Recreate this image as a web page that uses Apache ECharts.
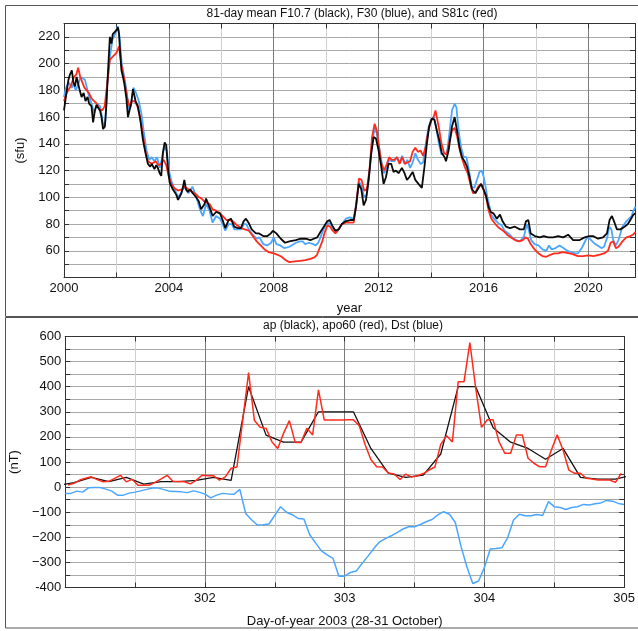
<!DOCTYPE html>
<html><head><meta charset="utf-8">
<script src="https://cdn.jsdelivr.net/npm/echarts@6/dist/echarts.min.js"></script>
<style>html,body{margin:0;padding:0;background:#fff}#chart{width:638px;height:631px}</style>
</head><body><div id="chart"></div>
<script>
// ---------- Top panel data: [year, sfu] ----------
const f107Black = [[2000.0,165],[2000.05,172],[2000.1,179],[2000.17,188],[2000.23,192],[2000.3,195],[2000.36,186],[2000.42,183],[2000.48,190],[2000.54,189],[2000.6,180],[2000.67,175],[2000.75,178],[2000.82,172],[2000.9,175],[2000.96,170],[2001.05,168],[2001.11,156],[2001.18,165],[2001.24,169],[2001.3,170],[2001.37,165],[2001.43,160],[2001.49,151],[2001.56,153],[2001.62,170],[2001.68,195],[2001.75,220],[2001.81,215],[2001.86,222],[2001.92,221],[2002.0,225],[2002.06,227],[2002.1,222],[2002.13,212],[2002.19,195],[2002.25,190],[2002.3,185],[2002.38,174],[2002.44,160],[2002.5,165],[2002.56,170],[2002.63,181],[2002.68,180],[2002.73,172],[2002.82,168],[2002.91,158],[2003.01,143],[2003.11,133],[2003.2,125],[2003.29,123],[2003.35,125],[2003.45,121],[2003.52,124],[2003.58,122],[2003.65,118],[2003.71,116],[2003.77,133],[2003.84,141],[2003.9,139],[2003.96,123],[2004.03,111],[2004.15,106],[2004.28,102],[2004.35,98],[2004.41,97],[2004.48,103],[2004.54,108],[2004.59,113],[2004.65,106],[2004.72,104],[2004.81,106],[2004.91,103],[2005.04,100],[2005.14,97],[2005.23,91],[2005.29,90],[2005.36,95],[2005.42,99],[2005.52,94],[2005.6,90],[2005.67,86],[2005.8,89],[2005.95,88],[2006.05,83],[2006.15,77],[2006.28,83],[2006.37,84],[2006.49,78],[2006.62,77],[2006.75,77],[2006.85,82],[2006.94,84],[2007.04,81],[2007.16,76],[2007.32,73],[2007.44,73],[2007.6,71],[2007.76,71],[2007.89,73],[2007.97,75],[2008.1,73],[2008.27,69],[2008.43,66],[2008.6,67],[2008.84,68],[2009.03,69],[2009.22,69],[2009.4,68],[2009.53,69],[2009.66,70],[2009.78,74],[2009.91,78],[2010.04,82],[2010.13,83],[2010.23,79],[2010.35,75],[2010.48,76],[2010.6,80],[2010.73,82],[2010.92,83],[2011.05,83],[2011.14,93],[2011.24,110],[2011.34,106],[2011.43,94],[2011.52,98],[2011.62,113],[2011.72,133],[2011.81,145],[2011.9,144],[2012.0,135],[2012.1,123],[2012.19,110],[2012.28,115],[2012.38,125],[2012.48,125],[2012.57,119],[2012.66,120],[2012.76,118],[2012.89,122],[2012.99,118],[2013.08,113],[2013.17,115],[2013.3,119],[2013.4,113],[2013.52,110],[2013.65,107],[2013.75,123],[2013.84,140],[2013.93,153],[2014.03,159],[2014.13,158],[2014.22,150],[2014.31,143],[2014.41,133],[2014.52,130],[2014.57,127],[2014.67,135],[2014.8,153],[2014.9,160],[2014.99,150],[2015.08,138],[2015.18,130],[2015.28,127],[2015.37,123],[2015.46,116],[2015.56,106],[2015.69,103],[2015.81,107],[2015.91,110],[2016.0,106],[2016.1,101],[2016.19,93],[2016.28,89],[2016.38,88],[2016.51,84],[2016.63,87],[2016.73,82],[2016.86,78],[2017.01,77],[2017.2,78],[2017.39,76],[2017.54,76],[2017.62,82],[2017.71,83],[2017.8,73],[2017.96,71],[2018.15,70],[2018.3,71],[2018.47,70],[2018.66,70],[2018.85,71],[2019.04,70],[2019.23,72],[2019.42,68],[2019.67,68],[2019.86,70],[2020.03,71],[2020.18,71],[2020.37,69],[2020.56,70],[2020.71,73],[2020.81,83],[2020.9,86],[2021.0,81],[2021.09,76],[2021.22,76],[2021.38,78],[2021.51,80],[2021.63,84],[2021.72,87],[2021.8,88]];

const f30Blue = [[2000.0,175],[2000.05,180],[2000.1,183],[2000.17,186],[2000.23,185],[2000.3,182],[2000.36,185],[2000.45,180],[2000.55,185],[2000.63,190],[2000.7,190],[2000.8,188],[2000.92,178],[2001.05,170],[2001.15,163],[2001.25,170],[2001.38,168],[2001.45,160],[2001.5,152],[2001.58,157],[2001.65,185],[2001.75,205],[2001.85,218],[2001.95,222],[2002.05,228],[2002.12,220],[2002.2,200],[2002.3,190],[2002.4,178],[2002.47,165],[2002.55,168],[2002.65,182],[2002.75,178],[2002.85,172],[2002.95,163],[2003.05,148],[2003.15,135],[2003.25,128],[2003.35,130],[2003.45,127],[2003.55,130],[2003.65,122],[2003.75,130],[2003.83,138],[2003.92,135],[2004.0,120],[2004.1,112],[2004.2,107],[2004.35,100],[2004.45,103],[2004.6,108],[2004.75,103],[2004.9,108],[2005.05,100],[2005.2,90],[2005.3,86],[2005.42,95],[2005.55,90],[2005.67,81],[2005.8,86],[2005.95,84],[2006.05,80],[2006.15,75],[2006.28,80],[2006.4,80],[2006.5,76],[2006.62,76],[2006.75,76],[2006.87,80],[2006.95,80],[2007.05,76],[2007.2,72],[2007.35,69],[2007.45,70],[2007.6,65],[2007.75,64],[2007.9,66],[2008.0,70],[2008.1,65],[2008.25,64],[2008.4,62],[2008.6,63],[2008.85,66],[2009.0,67],[2009.1,67],[2009.2,65],[2009.35,66],[2009.5,65],[2009.6,64],[2009.7,66],[2009.8,71],[2009.9,76],[2010.05,81],[2010.15,80],[2010.3,76],[2010.4,74],[2010.5,77],[2010.6,80],[2010.75,84],[2010.9,85],[2011.05,84],[2011.15,96],[2011.25,112],[2011.35,108],[2011.45,100],[2011.55,102],[2011.65,118],[2011.75,140],[2011.85,152],[2011.93,148],[2012.0,140],[2012.1,128],[2012.2,118],[2012.3,121],[2012.4,128],[2012.5,127],[2012.6,127],[2012.7,130],[2012.8,126],[2012.9,131],[2013.0,125],[2013.1,128],[2013.2,122],[2013.3,126],[2013.4,133],[2013.5,128],[2013.6,125],[2013.7,126],[2013.8,140],[2013.9,152],[2014.0,158],[2014.1,160],[2014.2,152],[2014.3,140],[2014.4,132],[2014.5,133],[2014.6,132],[2014.7,148],[2014.8,165],[2014.9,170],[2014.97,167],[2015.05,150],[2015.15,137],[2015.25,130],[2015.35,130],[2015.45,120],[2015.55,108],[2015.65,107],[2015.75,113],[2015.85,119],[2015.93,120],[2016.0,116],[2016.08,108],[2016.15,100],[2016.22,94],[2016.3,87],[2016.4,84],[2016.5,82],[2016.6,80],[2016.7,79],[2016.8,75],[2016.95,73],[2017.1,70],[2017.25,68],[2017.4,67],[2017.55,71],[2017.65,80],[2017.72,76],[2017.82,68],[2017.95,65],[2018.1,64],[2018.25,61],[2018.4,60],[2018.5,64],[2018.6,61],[2018.75,62],[2018.9,64],[2019.05,62],[2019.2,60],[2019.35,59],[2019.5,58],[2019.6,58],[2019.75,62],[2019.85,66],[2019.95,70],[2020.05,69],[2020.2,66],[2020.35,64],[2020.5,62],[2020.6,63],[2020.72,70],[2020.8,78],[2020.88,76],[2020.95,68],[2021.05,64],[2021.15,68],[2021.3,78],[2021.45,82],[2021.55,84],[2021.65,86],[2021.72,90],[2021.8,93]];

const s81cRed = [[2000.0,172],[2000.1,178],[2000.25,183],[2000.38,190],[2000.47,192],[2000.54,197],[2000.62,190],[2000.7,186],[2000.78,182],[2000.85,183],[2000.95,178],[2001.05,174],[2001.15,172],[2001.25,170],[2001.35,166],[2001.45,165],[2001.55,168],[2001.65,185],[2001.75,203],[2001.85,205],[2002.0,208],[2002.1,213],[2002.18,200],[2002.3,188],[2002.4,175],[2002.5,168],[2002.6,172],[2002.7,172],[2002.8,168],[2002.9,160],[2003.0,148],[2003.1,135],[2003.2,127],[2003.35,125],[2003.5,127],[2003.6,124],[2003.7,125],[2003.8,128],[2003.9,124],[2004.0,115],[2004.1,110],[2004.2,107],[2004.35,105],[2004.5,106],[2004.6,108],[2004.75,106],[2004.9,104],[2005.05,102],[2005.15,100],[2005.25,99],[2005.35,97],[2005.42,97],[2005.55,95],[2005.67,91],[2005.8,90],[2005.95,88],[2006.1,85],[2006.2,83],[2006.3,83],[2006.45,82],[2006.6,79],[2006.75,77],[2006.9,76],[2007.05,75],[2007.2,71],[2007.35,67],[2007.5,64],[2007.65,61],[2007.8,59],[2008.0,58],[2008.15,57],[2008.3,55.5],[2008.45,53],[2008.6,51.5],[2008.8,52],[2009.0,52.5],[2009.2,53],[2009.4,54],[2009.55,55],[2009.65,57],[2009.75,62],[2009.85,67],[2009.95,74],[2010.05,79],[2010.15,78],[2010.25,75],[2010.35,73],[2010.47,76],[2010.6,80],[2010.75,81],[2010.9,81],[2011.05,81],[2011.15,95],[2011.25,114],[2011.35,113],[2011.45,105],[2011.55,106],[2011.65,120],[2011.75,145],[2011.85,155],[2011.93,150],[2012.0,140],[2012.1,126],[2012.2,120],[2012.3,124],[2012.4,130],[2012.5,128],[2012.6,128],[2012.7,130],[2012.8,125],[2012.9,130],[2013.0,125],[2013.1,126],[2013.2,127],[2013.3,134],[2013.4,137],[2013.5,134],[2013.6,135],[2013.7,131],[2013.8,138],[2013.9,150],[2014.0,157],[2014.1,160],[2014.17,165],[2014.3,152],[2014.4,140],[2014.5,133],[2014.6,132],[2014.7,142],[2014.8,150],[2014.9,152],[2015.0,145],[2015.1,135],[2015.2,128],[2015.3,122],[2015.4,118],[2015.5,110],[2015.6,103],[2015.7,104],[2015.8,108],[2015.9,110],[2016.0,106],[2016.1,100],[2016.2,90],[2016.3,84],[2016.45,80],[2016.6,77],[2016.75,75],[2016.9,72],[2017.05,70],[2017.2,68],[2017.35,67],[2017.5,68],[2017.6,70],[2017.7,69],[2017.8,65],[2017.95,61],[2018.1,58],[2018.25,56],[2018.4,55.5],[2018.55,57],[2018.7,58],[2018.85,58],[2019.0,59],[2019.2,58.5],[2019.4,57.5],[2019.6,56],[2019.8,56],[2020.0,56.5],[2020.2,56],[2020.4,57],[2020.6,58],[2020.75,60],[2020.85,66],[2020.95,67],[2021.05,62],[2021.15,63],[2021.3,67],[2021.45,70],[2021.6,71],[2021.7,72],[2021.8,74]];

const topXLabels = [2000, 2004, 2008, 2012, 2016, 2020];
const topYLabels = [60, 80, 100, 120, 140, 160, 180, 200, 220];

// ---------- Bottom panel data (DOY 301.0 - 305.0, 2003) ----------
const startDay = 301;
// ap, 3-hourly (plotted at interval mid-points); first/last entries are the neighbouring intervals
const apValues = [5,
  18,39,22,39,12,22,22,27,
  39,27,400,207,179,179,300,300,
  300,154,56,39,48,132,400,400,
  236,179,154,111,154,39,32,32,
  48];
// apo60, hourly (plotted at mid-hour)
const apo60Values = [
  8,15,28,35,41,30,21,23,35,47,21,31,7,7,8,20,33,47,23,22,21,13,27,47,
  45,45,28,41,75,80,268,456,265,238,234,181,154,214,265,178,178,234,208,387,267,267,267,267,
  268,268,245,170,110,81,80,56,52,30,52,40,45,54,68,80,170,205,180,420,420,576,395,238,
  268,268,181,135,135,208,208,115,95,81,81,148,208,148,68,55,55,35,32,28,28,28,19,55];
// Dst, hourly (plotted at hour start)
const dstValues = [
  -25,-25,-16,-20,-3,-2,-2,-8,-16,-32,-32,-24,-20,-15,-9,-4,-4,-10,-17,-18,-19,-22,-15,-20,
  -28,-43,-32,-25,-27,-28,-9,-105,-130,-151,-150,-147,-112,-78,-100,-110,-125,-127,-190,-222,-254,-270,-284,-355,
  -355,-340,-334,-304,-275,-245,-218,-205,-194,-181,-167,-158,-158,-149,-138,-129,-111,-98,-108,-141,-238,-318,-384,-374,
  -320,-247,-245,-242,-201,-131,-108,-114,-114,-109,-113,-58,-78,-81,-89,-81,-78,-69,-71,-66,-63,-53,-56,-65,
  -69];
const bottomXLabels = [302, 303, 304, 305];
const bottomYLabels = [-400,-300,-200,-100,0,100,200,300,400,500,600];

// ---------- build ----------
const apData = apValues.map((v, i) => [startDay + (i - 1 + 0.5) / 8, v]);
const apo60Data = apo60Values.map((v, i) => [startDay + (i + 0.5) / 24, v]);
const dstData = dstValues.map((v, i) => [startDay + i / 24, v]);

const FONT = 'Liberation Sans, Arial, Helvetica, sans-serif';
const AX = '#333';
const tickStyle = { show: true, inside: true, length: 5, lineStyle: { color: AX, width: 1 } };
const lineAx = { show: true, onZero: false, lineStyle: { color: AX, width: 1 } };
const lbl = (list, fmt) => ({
  show: true, fontSize: 13, fontFamily: FONT, color: '#111', margin: 4,
  formatter: v => { const r = Math.round(v * 1000) / 1000; return list.indexOf(r) >= 0 ? (fmt ? fmt(r) : String(r)) : ''; }
});
const minusFmt = v => v < 0 ? (v === -400 ? '-400' : '\u2212' + Math.abs(v)) : String(v);

const G0 = { left: 64, top: 23.5, width: 573, height: 254 };
const G1 = { left: 63.5, top: 336.5, width: 569.5, height: 251 };

const option = {
  animation: false,
  backgroundColor: '#fff',
  textStyle: { fontFamily: FONT },
  grid: [Object.assign({ containLabel: false }, G0), Object.assign({ containLabel: false }, G1)],
  xAxis: [
    { gridIndex: 0, type: 'value', position: 'bottom', min: 2000, max: 2021.78, interval: 2,
      axisLine: lineAx, axisTick: tickStyle, axisLabel: lbl(topXLabels),
      splitLine: { show: true, lineStyle: { color: ['#7a7a7a', '#cfcfcf'], width: 1 } },
      name: 'year', nameLocation: 'middle', nameGap: 24,
      nameTextStyle: { fontSize: 13, color: '#111', fontFamily: FONT } },
    { gridIndex: 0, type: 'value', position: 'top', min: 2000, max: 2021.78, interval: 2,
      axisLine: lineAx, axisTick: tickStyle, axisLabel: { show: false }, splitLine: { show: false } },
    { gridIndex: 1, type: 'value', position: 'bottom', min: 301, max: 305, interval: 0.5,
      axisLine: lineAx, axisTick: tickStyle, axisLabel: lbl(bottomXLabels),
      splitLine: { show: true, lineStyle: { color: ['#7a7a7a', '#cfcfcf'], width: 1 } },
      name: 'Day-of-year 2003 (28-31 October)', nameLocation: 'middle', nameGap: 27,
      nameTextStyle: { fontSize: 13, color: '#111', fontFamily: FONT } },
    { gridIndex: 1, type: 'value', position: 'top', min: 301, max: 305, interval: 0.5,
      axisLine: lineAx, axisTick: tickStyle, axisLabel: { show: false }, splitLine: { show: false } }
  ],
  yAxis: [
    { gridIndex: 0, type: 'value', position: 'left', min: 40, max: 230, interval: 10,
      axisLine: lineAx, axisTick: tickStyle, axisLabel: lbl(topYLabels),
      splitLine: { show: true, lineStyle: { color: '#a8a8a8', width: 1 } },
      name: '(sfu)', nameLocation: 'middle', nameGap: 36,
      nameTextStyle: { fontSize: 13, color: '#111', fontFamily: FONT } },
    { gridIndex: 0, type: 'value', position: 'right', min: 40, max: 230, interval: 10,
      axisLine: lineAx, axisTick: tickStyle, axisLabel: { show: false }, splitLine: { show: false } },
    { gridIndex: 1, type: 'value', position: 'left', min: -400, max: 600, interval: 50,
      axisLine: lineAx, axisTick: tickStyle, axisLabel: lbl(bottomYLabels, minusFmt),
      splitLine: { show: true, lineStyle: { color: '#a8a8a8', width: 1 } },
      name: '(nT)', nameLocation: 'middle', nameGap: 36,
      nameTextStyle: { fontSize: 13, color: '#111', fontFamily: FONT } },
    { gridIndex: 1, type: 'value', position: 'right', min: -400, max: 600, interval: 50,
      axisLine: lineAx, axisTick: tickStyle, axisLabel: { show: false }, splitLine: { show: false } }
  ],
  series: [
    { name: 'F30', type: 'line', xAxisIndex: 0, yAxisIndex: 0, data: f30Blue, showSymbol: false,
      lineStyle: { color: '#4ba6ff', width: 1.8 }, clip: true, z: 3 },
    { name: 'S81c', type: 'line', xAxisIndex: 0, yAxisIndex: 0, data: s81cRed, showSymbol: false,
      lineStyle: { color: '#ff2b1c', width: 1.8 }, clip: true, z: 4 },
    { name: 'F10.7', type: 'line', xAxisIndex: 0, yAxisIndex: 0, data: f107Black, showSymbol: false,
      lineStyle: { color: '#0a0a0a', width: 1.8 }, clip: true, z: 5 },
    { name: 'ap', type: 'line', xAxisIndex: 2, yAxisIndex: 2, data: apData, showSymbol: false,
      lineStyle: { color: '#111', width: 1.3 }, clip: true, z: 3 },
    { name: 'apo60', type: 'line', xAxisIndex: 2, yAxisIndex: 2, data: apo60Data, showSymbol: false,
      lineStyle: { color: '#ff2b1c', width: 1.5 }, clip: true, z: 4 },
    { name: 'Dst', type: 'line', xAxisIndex: 2, yAxisIndex: 2, data: dstData, showSymbol: false,
      lineStyle: { color: '#4ba6ff', width: 1.5 }, clip: true, z: 5 }
  ],
  graphic: [
    { type: 'rect', shape: { x: 5.5, y: 5.5, width: 700, height: 311 }, silent: true, z: -10,
      style: { fill: 'none', stroke: '#555', lineWidth: 1 } },
    { type: 'rect', shape: { x: 5.5, y: 317.5, width: 700, height: 310.5 }, silent: true, z: -10,
      style: { fill: 'none', stroke: '#555', lineWidth: 1 } },
    { type: 'text', x: 352, y: 14, silent: true,
      style: { text: '81-day mean F10.7 (black), F30 (blue), and S81c (red)', font: '12px ' + FONT,
               fill: '#111', align: 'center', verticalAlign: 'middle' } },
    { type: 'text', x: 353, y: 326, silent: true,
      style: { text: 'ap (black), apo60 (red), Dst (blue)', font: '12px ' + FONT,
               fill: '#111', align: 'center', verticalAlign: 'middle' } }
  ]
};

const chart = echarts.init(document.getElementById('chart'), null, { renderer: 'canvas' });
chart.setOption(option);
</script>
</body></html>
